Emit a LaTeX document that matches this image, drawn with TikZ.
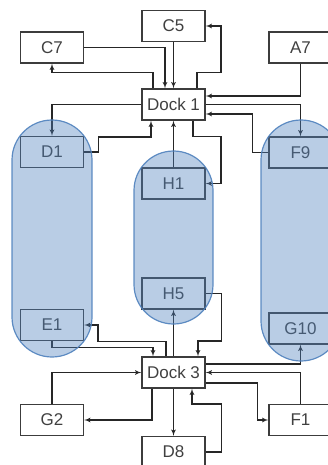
\documentclass[tikz,border=0pt]{standalone}
\usepackage{fontspec}
\setmainfont{Liberation Sans}
\usetikzlibrary{arrows}
\definecolor{boxgray}{HTML}{3C3C3C}
\definecolor{textgray}{HTML}{404040}
\definecolor{capblue}{HTML}{4F81BD}

\begin{document}
\begin{tikzpicture}[x=1pt,y=-1pt]
  \tikzset{
    box/.style={draw=boxgray, rectangle, line width=1.2pt, minimum width=63pt, minimum height=31pt, inner sep=0pt, text=textgray, font=\fontsize{17}{20}\selectfont},
    line/.style={draw=black!85, line width=1.2pt, -latex'},
    group/.style={draw=capblue, line width=1.2pt, fill=capblue, fill opacity=0.4, draw opacity=0.9}
  }
  \useasboundingbox (0,0) rectangle (328,465);
  \node [box] (c5) at (173.5,26) {C5};
  \node [box, below of=c5, node distance=78.5pt] (dock1) {Dock 1};
  \node [box, below of=dock1, node distance=79pt] (h1) {H1};
  \node [box, below of=h1, node distance=110pt] (h5) {H5};
  \node [box, below of=h5, node distance=79pt] (dock3) {Dock 3};
  \node [box, below of=dock3, node distance=79.5pt] (d8) {D8};
  \node [box] (c7) at (52,47.5) {C7};
  \node [box, below of=c7, node distance=104.5pt] (d1) {D1};
  \node [box, below of=d1, node distance=173pt] (e1) {E1};
  \node [box, below of=e1, node distance=95pt] (g2) {G2};
  \node [box, right of=c7, node distance=248.5pt] (a7) {A7};
  \node [box, below of=a7, node distance=105pt] (f9) {F9};
  \node [box, below of=f9, node distance=176pt] (g10) {G10};
  \node [box, below of=g10, node distance=91.5pt] (f1) {F1};

  % Dock 1
  \path [line] (c5) -- (dock1);
  \path [line] (c7.east) -| ([xshift=-8.5pt]dock1.north);
  \path [line] ([xshift=-20.5pt]dock1.north) -- ++(0,-16) -| (c7.south);
  \path [line] ([xshift=23.5pt]dock1.north) -- ++(0,-16) -- ++(24,0) |- (c5.east);
  \path [line] (a7.south) |- ([yshift=8.5pt]dock1.east);
  \path [line] (dock1.east) -| (f9.north);
  \path [line] (f9.west) -- ++(-16,0) |- ([yshift=-9.5pt]dock1.east);
  \path [line] (dock1.west) -| (d1.north);
  \path [line] (d1.east) -- ++(14,0) -- ++(0,-15) -| ([xshift=-22.5pt]dock1.south);
  \path [line] (h1) -- (dock1);
  \path [line] ([xshift=19.5pt]dock1.south) -- ++(0,16) -- ++(28,0) |- (h1.east);

  % Dock 3
  \path [line] (dock3) -- (h5);
  \path [line] (h5.east) -- ++(16,0) -- ++(0,47.5) -| ([xshift=24.5pt]dock3.north);
  \path [line] ([xshift=-7.5pt]dock3.north) -- ++(0,-15) -- ++(-68,0) |- (e1.east);
  \path [line] (e1.south) -- ++(0,6) -| ([xshift=-20.5pt]dock3.north);
  \path [line] (g2.north) |- (dock3.west);
  \path [line] ([xshift=-21.5pt]dock3.south) |- (g2.east);
  \path [line] (dock3) -- (d8);
  \path [line] (d8.east) -- ++(16,0) -- ++(0,-48) -| ([xshift=18.5pt]dock3.south);
  \path [line] ([yshift=8.5pt]dock3.east) -| (g10.south);
  \path [line] (f1.north) |- (dock3.east);
  \path [line] ([yshift=-10.5pt]dock3.east) -- ++(52,0) |- (f1.west);

  % groups
  \draw [group, rounded corners=40pt] (12,120) rectangle (92,357);
  \draw [group, rounded corners=39.5pt] (134,151) rectangle (213,324);
  \draw [group, rounded corners=40pt] (261,120) rectangle (341,361);
\end{tikzpicture}
\end{document}
